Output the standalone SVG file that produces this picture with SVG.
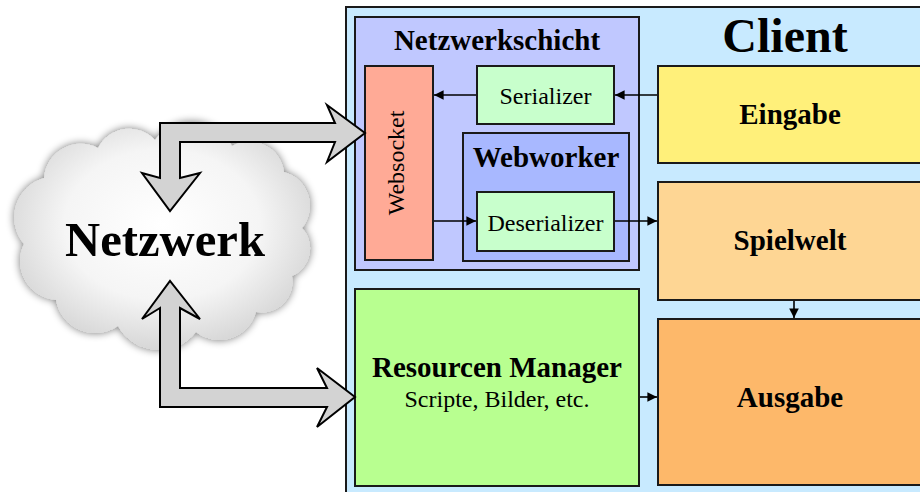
<svg xmlns="http://www.w3.org/2000/svg" width="920" height="492" viewBox="0 0 920 492">
<defs>
<style>
.box{stroke:#1a1a1a;stroke-width:2}
.t{font-family:"Liberation Serif","Times New Roman",serif;fill:#000}
.b{font-weight:bold}
.con{stroke:#000;stroke-width:1.6;fill:none;marker-end:url(#ah)}
.big{fill:#d3d3d3;stroke:#000;stroke-width:2;stroke-linejoin:miter}
</style>
<marker id="ah" viewBox="0 0 10 10" refX="10" refY="5" markerWidth="6" markerHeight="6" orient="auto" markerUnits="strokeWidth">
<path d="M0,0 L10,5 L0,10 z" fill="#000"/>
</marker>
<radialGradient id="cg" cx="0.5" cy="0.45" r="0.6">
<stop offset="0" stop-color="#ffffff"/>
<stop offset="0.55" stop-color="#f5f5f5"/>
<stop offset="1" stop-color="#d0d0d0"/>
</radialGradient>
<filter id="sh" x="-20%" y="-20%" width="140%" height="140%">
<feGaussianBlur in="SourceAlpha" stdDeviation="4"/>
<feComponentTransfer><feFuncA type="linear" slope="0.55"/></feComponentTransfer>
<feMerge><feMergeNode/><feMergeNode in="SourceGraphic"/></feMerge>
</filter>
</defs>
<rect width="920" height="492" fill="#fff"/>

<g id="cloud">
<path filter="url(#sh)" fill="url(#cg)" d="M24,244 A41,41 0 0 1 44,178 A37,37 0 0 1 98,148 A35,35 0 0 1 155,140 A46,46 0 0 1 232,146 A35,35 0 0 1 284,172 A35,35 0 0 1 302,228 A30,30 0 0 1 292,276 A31,31 0 0 1 256,312 A38,38 0 0 1 196,332 A47,47 0 0 1 118,326 A40,40 0 0 1 56,300 A39,39 0 0 1 24,244 Z"/>
<text class="t b" x="165" y="256" font-size="48" text-anchor="middle" textLength="200" lengthAdjust="spacingAndGlyphs">Netzwerk</text>
</g>

<g id="client">
<rect x="346" y="7" width="580" height="492" fill="#c8eaff" class="box"/>
<text class="t b" x="785" y="52" font-size="48" text-anchor="middle">Client</text>
</g>

<g id="netzwerkschicht">
<rect x="355" y="17" width="284" height="253" fill="#c0c8ff" class="box"/>
<text class="t b" x="497" y="50" font-size="29" text-anchor="middle">Netzwerkschicht</text>
</g>

<g id="websocket">
<rect x="365" y="66" width="68" height="194" fill="#ffaa96" class="box"/>
<text class="t" transform="translate(404,163) rotate(-90)" font-size="24" text-anchor="middle">Websocket</text>
</g>

<g id="serializer">
<rect x="477" y="66" width="137" height="58" fill="#c8ffcc" class="box"/>
<text class="t" x="545.5" y="104" font-size="24" text-anchor="middle">Serializer</text>
</g>

<g id="webworker">
<rect x="463" y="133" width="166" height="128" fill="#a8b8ff" class="box"/>
<text class="t b" x="546" y="167" font-size="29" text-anchor="middle">Webworker</text>
</g>

<g id="deserializer">
<rect x="477" y="192" width="137" height="59" fill="#c8ffcc" class="box"/>
<text class="t" x="545.5" y="231" font-size="24" text-anchor="middle">Deserializer</text>
</g>

<g id="eingabe">
<rect x="658" y="66" width="270" height="97" fill="#fff07a" class="box"/>
<text class="t b" x="790" y="124" font-size="29" text-anchor="middle">Eingabe</text>
</g>

<g id="spielwelt">
<rect x="658" y="182" width="270" height="118" fill="#fed694" class="box"/>
<text class="t b" x="790" y="250" font-size="29" text-anchor="middle">Spielwelt</text>
</g>

<g id="ausgabe">
<rect x="658" y="319" width="270" height="166" fill="#fdb86a" class="box"/>
<text class="t b" x="790" y="407" font-size="29" text-anchor="middle">Ausgabe</text>
</g>

<g id="resourcen">
<rect x="355" y="289" width="284" height="197" fill="#b8ff90" class="box"/>
<text class="t b" x="497" y="377" font-size="29" text-anchor="middle">Resourcen Manager</text>
<text class="t" x="497" y="407" font-size="24" text-anchor="middle">Scripte, Bilder, etc.</text>
</g>

<g id="connectors">
<line class="con" x1="657" y1="95" x2="615" y2="95"/>
<line class="con" x1="476" y1="95" x2="434" y2="95"/>
<line class="con" x1="434" y1="221" x2="476" y2="221"/>
<line class="con" x1="615" y1="221" x2="657" y2="221"/>
<line class="con" x1="794" y1="301" x2="794" y2="318"/>
<line class="con" x1="640" y1="397" x2="657" y2="397"/>
<path class="big" d="M160,178 L160,123 L335,123 L327,105 L365,133 L327,162 L335,142 L180,142 L180,178 L200,173 L170,211 L142,173 Z"/>
<path class="big" d="M160,308 L142,319 L170,281 L200,319 L180,308 L180,388 L327,388 L317,368 L355,397 L317,427 L327,407 L160,407 Z"/>
</g>
</svg>
